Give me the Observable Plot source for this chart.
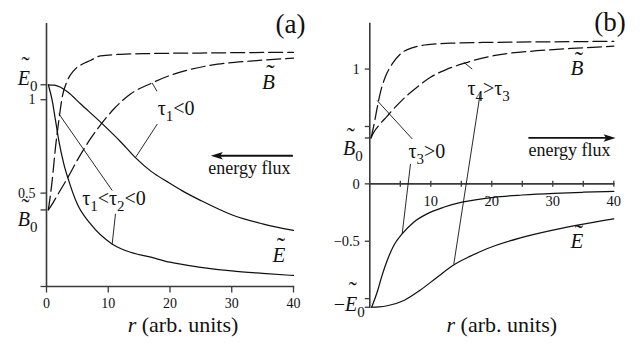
<!DOCTYPE html>
<html><head><meta charset="utf-8">
<script src="https://cdn.jsdelivr.net/npm/d3@7"></script>
<script src="https://cdn.jsdelivr.net/npm/@observablehq/plot@0.6"></script>
<style>
html,body{margin:0;padding:0;background:#fff;}
#wrap{position:relative;width:643px;height:343px;overflow:hidden;background:#fff;}
#wrap > svg{position:absolute;top:0;}
</style></head><body><div id="wrap"></div>
<script>
// ---------------- data: panel (a) ----------------
const a_xTicks = [0, 10, 20, 30, 40];
const a_yTicks = [0.5, 1];
const a_E0 = 1.08, a_B0 = 0.41;
const a_Bfast_r = [0.3, 0.92, 1.46, 2.0, 2.54, 3.35, 4.42, 5.5, 7.1, 8.75, 12, 16.8, 25, 40];
const a_Bfast_v = [0.41, 0.567, 0.746, 0.889, 1.013, 1.10, 1.156, 1.185, 1.21, 1.235, 1.243, 1.247, 1.25, 1.254];
const a_Bslow_r = [0.3, 1.0, 1.73, 2.5, 3.35, 4.97, 7.1, 8.75, 10.9, 13.6, 17.1, 20, 23, 27.7, 33, 40];
const a_Bslow_v = [0.41, 0.445, 0.487, 0.53, 0.577, 0.675, 0.79, 0.865, 0.95, 1.03, 1.09, 1.13, 1.16, 1.19, 1.207, 1.222];
const a_Eslow_r = [0.3, 1.3, 2.27, 3.5, 5.5, 8.75, 12, 14.4, 17, 19.6, 22, 25, 30.3, 35, 40];
const a_Eslow_v = [1.08, 1.078, 1.067, 1.04, 0.978, 0.88, 0.775, 0.69, 0.615, 0.56, 0.512, 0.46, 0.38, 0.335, 0.30];
const a_Efast_r = [0.3, 0.92, 1.46, 2.0, 2.8, 3.6, 4.97, 7.1, 10.6, 13, 16.9, 20, 25, 30, 35, 40];
const a_Efast_v = [1.08, 0.996, 0.889, 0.78, 0.657, 0.567, 0.443, 0.336, 0.228, 0.19, 0.157, 0.13, 0.103, 0.083, 0.07, 0.059];
const a_leaders = [[17.1, 1.09, 17.9, 1.045], [17.95, 0.87, 14.4, 0.69], [1.99, 0.925, 10.64, 0.514], [11.17, 0.389, 10.64, 0.228]];
const a_flux = {from: 39.9, to: 26.6, at: 0.70};
const a_texts = [{t: "τ_1<0", x: 18.0, y: 0.955}, {t: "τ_1<τ_2<0", x: 5.78, y: 0.468}];
const a_fluxText = {t: "energy flux", x: 26.2, y: 0.632};
const a_letters = [{t: "B", x: 34.9, y: 1.096}, {t: "E", x: 36.6, y: 0.166}];

// ---------------- data: panel (b) ----------------
const b_xTicks = [5, 10, 15, 20, 25, 30, 35, 40];
const b_xLabels = [10, 20, 30, 40];
const b_yTicks = [-1, -0.5, 0, 0.5, 1];
const b_yLabels = [-0.5, 0, 1];
const b_E0 = -1.075, b_B0 = 0.40;
const b_Bfast_r = [0.2, 0.7, 1.2, 1.75, 2.57, 3.67, 5.03, 7.2, 9.95, 14, 20, 30, 40];
const b_Bfast_v = [0.40, 0.52, 0.66, 0.80, 0.935, 1.045, 1.132, 1.19, 1.215, 1.227, 1.233, 1.238, 1.242];
const b_Bslow_r = [0.2, 0.66, 1.5, 2.85, 3.67, 5.3, 8.05, 9.95, 12.5, 15.4, 20.3, 27.4, 33, 40];
const b_Bslow_v = [0.40, 0.45, 0.51, 0.59, 0.64, 0.73, 0.856, 0.929, 0.995, 1.05, 1.117, 1.16, 1.18, 1.2];
const b_Efast_r = [0.3, 1.2, 2.0, 2.85, 3.93, 5.3, 7.2, 9.4, 12.1, 15.1, 20.3, 25, 30.2, 35, 40];
const b_Efast_v = [-1.075, -0.944, -0.80, -0.668, -0.537, -0.436, -0.334, -0.261, -0.204, -0.16, -0.117, -0.097, -0.082, -0.073, -0.066];
const b_Eslow_r = [0.3, 1.5, 2.85, 5.6, 8.3, 11, 13.8, 16.5, 19.2, 24.7, 30.2, 35, 40];
const b_Eslow_v = [-1.075, -1.072, -1.062, -1.016, -0.925, -0.815, -0.705, -0.63, -0.565, -0.47, -0.40, -0.35, -0.305];
const b_leaders = [[1.21, 0.726, 6.95, 0.392], [6.67, 0.174, 5.31, -0.436], [15.4, 1.06, 16.8, 1.0], [18.15, 0.806, 13.77, -0.70]];
const b_flux = {from: 26.0, to: 40.3, at: 0.40};
const b_texts = [{t: "τ_3>0", x: 6.34, y: 0.285}, {t: "τ_4>τ_3", x: 16.0, y: 0.834}];
const b_fluxText = {t: "energy flux", x: 26.0, y: 0.29};
const b_letters = [{t: "B", x: 32.9, y: 1.004}, {t: "E", x: 32.9, y: -0.503}];

// ---------------- helpers ----------------
const FONT = "Liberation Serif";
const INK = "#111";
const AX = "#3a3a3a";
const T = (data, o) => Plot.text(data, {fontFamily: FONT, fill: INK, ...o});
const pts = (rs, vs) => rs.map((r, i) => ({r, v: vs[i]}));
const segs = (list) => list.map(([x1, y1, x2, y2]) => ({x1, y1, x2, y2}));
const sym = (f) => ({draw(c) { f(c); }});
const tickDown = sym(c => { c.moveTo(0, 0); c.lineTo(0, 6); });
const tickCross = sym(c => { c.moveTo(0, -3); c.lineTo(0, 3); });
const tickLeft = (L) => sym(c => { c.moveTo(0, 0); c.lineTo(-L, 0); });
const headL = sym(c => { c.moveTo(0, 0); c.lineTo(12, -3.8); c.lineTo(9.5, 0); c.lineTo(12, 3.8); c.closePath(); });
const headR = sym(c => { c.moveTo(0, 0); c.lineTo(-12, -3.8); c.lineTo(-9.5, 0); c.lineTo(-12, 3.8); c.closePath(); });

function curve(rs, vs, dashed) {
  const o = {x: "r", y: "v", curve: "monotone-x", stroke: INK, strokeWidth: 1.25};
  if (dashed) o.strokeDasharray = "14,5";
  return Plot.line(pts(rs, vs), o);
}
function tildeLetters(list, fs) {
  return [
    T(list, {x: "x", y: "y", text: d => "*" + d.t + "*", textAnchor: "start", fontSize: fs}),
    T(list, {x: "x", y: "y", text: () => "˜", textAnchor: "middle", fontSize: 25, dx: 8.5, dy: -8})
  ];
}
function richText(svg) {
  d3.select(svg).selectAll("text").each(function () {
    const s = this.textContent;
    if (!/[_*]/.test(s)) return;
    const t = d3.select(this);
    t.text(null);
    let it = false, up = false, buf = "";
    const add = (str, sub) => {
      if (!str) return;
      const ts = t.append("tspan").text(str);
      if (it) ts.attr("font-style", "italic");
      if (sub) ts.attr("font-size", "75%").attr("dy", "0.4em");
      else if (up) ts.attr("dy", "-0.3em");
      up = sub;
    };
    for (let i = 0; i < s.length; i++) {
      const ch = s[i];
      if (ch === "*") { add(buf, false); buf = ""; it = !it; }
      else if (ch === "_") { add(buf, false); buf = ""; add(s[++i], true); }
      else buf += ch;
    }
    add(buf, false);
  });
}
const fmt = d => (d < 0 ? "−" : "") + String(Math.abs(d));

// ---------------- panel (a) ----------------
const A_TOP = 1.408;
const plotA = Plot.plot({
  width: 320, height: 343,
  marginLeft: 46, marginRight: 27, marginTop: 23, marginBottom: 57,
  x: {domain: [0, 40], axis: null},
  y: {domain: [0, A_TOP], axis: null},
  style: {fontFamily: FONT, background: "transparent", overflow: "visible", color: INK},
  marks: [
    Plot.ruleX([0], {y1: 0, y2: A_TOP, stroke: AX, strokeWidth: 1.6}),
    Plot.ruleY([0], {x1: 0, x2: 40.2, stroke: AX, strokeWidth: 1.6}),
    Plot.dot(a_xTicks, {x: d => d, y: 0, symbol: tickDown, stroke: AX, fill: "none", strokeWidth: 1.3}),
    Plot.dot([0, a_B0, 0.5, 1, a_E0], {x: 0, y: d => d, symbol: tickLeft(6), stroke: AX, fill: "none", strokeWidth: 1.3}),
    T(a_xTicks, {x: d => d, y: 0, dy: 17.5, text: d => fmt(d), fontSize: 14}),
    T(a_yTicks, {x: 0, y: d => d, dx: -11, textAnchor: "end", text: d => fmt(d), fontSize: 14}),
    T([a_E0], {x: 0, y: d => d, dx: -9, dy: -6, textAnchor: "end", text: () => "*E*_0", fontSize: 20}),
    T([a_E0], {x: 0, y: d => d, dx: -21, dy: -19, textAnchor: "middle", text: () => "˜", fontSize: 24}),
    T([a_B0], {x: 0, y: d => d, dx: -9, dy: 10, textAnchor: "end", text: () => "*B*_0", fontSize: 20}),
    T([a_B0], {x: 0, y: d => d, dx: -21, dy: -3, textAnchor: "middle", text: () => "˜", fontSize: 24}),
    curve(a_Bfast_r, a_Bfast_v, true),
    curve(a_Bslow_r, a_Bslow_v, true),
    curve(a_Eslow_r, a_Eslow_v, false),
    curve(a_Efast_r, a_Efast_v, false),
    Plot.link(segs(a_leaders), {x1: "x1", y1: "y1", x2: "x2", y2: "y2", stroke: INK, strokeWidth: 0.9}),
    Plot.link([a_flux], {x1: "from", x2: d => d.to + 1, y1: "at", y2: "at", stroke: INK, strokeWidth: 1.8}),
    Plot.dot([a_flux], {x: "to", y: "at", symbol: headL, fill: INK, stroke: "none"}),
    T(a_texts, {x: "x", y: "y", text: "t", textAnchor: "start", fontSize: 20}),
    T([a_fluxText], {x: "x", y: "y", text: "t", textAnchor: "start", fontSize: 18}),
    ...tildeLetters(a_letters, 21),
    T(["(a)"], {frameAnchor: "top-right", text: d => d, dx: 12, dy: -10, textAnchor: "end", fontSize: 27}),
    T(["*r* (arb. units)"], {frameAnchor: "bottom", text: d => d, dy: 45, dx: 13, fontSize: 22})
  ]
});

// ---------------- panel (b) ----------------
const B_TOP = 1.40, B_BOT = -1.086;
const plotB = Plot.plot({
  width: 323, height: 343,
  marginLeft: 49.3, marginRight: 29.7, marginTop: 22.7, marginBottom: 35,
  x: {domain: [0, 40], axis: null},
  y: {domain: [B_BOT, B_TOP], axis: null},
  style: {fontFamily: FONT, background: "transparent", overflow: "visible", color: INK},
  marks: [
    Plot.ruleX([0], {y1: B_BOT, y2: B_TOP, stroke: AX, strokeWidth: 1.6}),
    Plot.ruleY([0], {x1: 0, x2: 40.2, stroke: AX, strokeWidth: 1.6}),
    Plot.dot(b_xTicks, {x: d => d, y: 0, symbol: tickCross, stroke: AX, fill: "none", strokeWidth: 1.3}),
    Plot.dot([...b_yTicks, b_B0, b_E0], {x: 0, y: d => d, symbol: tickLeft(5), stroke: AX, fill: "none", strokeWidth: 1.3}),
    T(b_xLabels, {x: d => d, y: 0, dy: 17, text: d => fmt(d), fontSize: 14.5}),
    T(b_yLabels, {x: 0, y: d => d, dx: -10, textAnchor: "end", text: d => fmt(d), fontSize: 14.5}),
    T([b_E0], {x: 0, y: d => d, dx: -5, dy: -3, textAnchor: "end", text: () => "−*E*_0", fontSize: 20}),
    T([b_E0], {x: 0, y: d => d, dx: -17, dy: -17, textAnchor: "middle", text: () => "˜", fontSize: 24}),
    T([b_B0], {x: 0, y: d => d, dx: -7, dy: 11, textAnchor: "end", text: () => "*B*_0", fontSize: 20}),
    T([b_B0], {x: 0, y: d => d, dx: -19, dy: -2, textAnchor: "middle", text: () => "˜", fontSize: 24}),
    curve(b_Bfast_r, b_Bfast_v, true),
    curve(b_Bslow_r, b_Bslow_v, true),
    curve(b_Efast_r, b_Efast_v, false),
    curve(b_Eslow_r, b_Eslow_v, false),
    Plot.link(segs(b_leaders), {x1: "x1", y1: "y1", x2: "x2", y2: "y2", stroke: INK, strokeWidth: 0.9}),
    Plot.link([b_flux], {x1: "from", x2: d => d.to - 1, y1: "at", y2: "at", stroke: INK, strokeWidth: 1.8}),
    Plot.dot([b_flux], {x: "to", y: "at", symbol: headR, fill: INK, stroke: "none"}),
    T(b_texts, {x: "x", y: "y", text: "t", textAnchor: "start", fontSize: 20}),
    T([b_fluxText], {x: "x", y: "y", text: "t", textAnchor: "start", fontSize: 18}),
    ...tildeLetters(b_letters, 21),
    T(["(b)"], {frameAnchor: "top-right", text: d => d, dx: 12, dy: -11, textAnchor: "end", fontSize: 27}),
    T(["*r* (arb. units)"], {frameAnchor: "bottom", text: d => d, dy: 23, dx: 10, fontSize: 22})
  ]
});

const wrap = document.getElementById("wrap");
plotA.style.left = "0px";
plotB.style.left = "320px";
wrap.appendChild(plotA);
wrap.appendChild(plotB);
richText(plotA);
richText(plotB);
</script></body></html>
